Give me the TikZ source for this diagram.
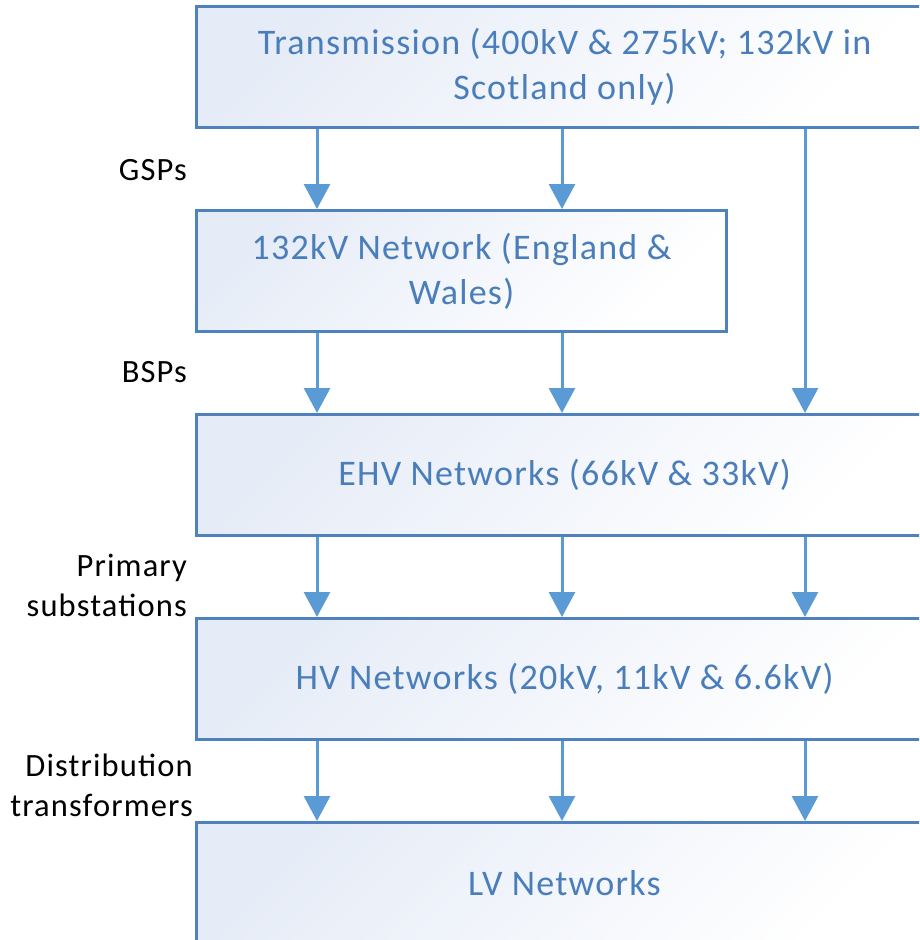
\documentclass[tikz,border=0pt]{standalone}
\usepackage{fontspec}
\setmainfont{Carlito}
\newfontfamily\spacedfont[LetterSpace=3.5]{Carlito}
\usetikzlibrary{arrows.meta}
\definecolor{boxline}{HTML}{4F81BD}
\definecolor{boxtext}{HTML}{4A7EBB}
\definecolor{arrowblue}{HTML}{5B9BD5}
\definecolor{boxfill}{HTML}{E6ECF7}
\tikzset{
  x=1pt, y=-1pt,
  netbox/.style={draw=boxline, line width=3pt, rectangle, anchor=north west,
    inner sep=0pt, minimum height=121pt, top color=boxfill, bottom color=white,
    shading angle=45, text=boxtext, align=center,
    font=\spacedfont\fontsize{36}{45}\selectfont},
  steplabel/.style={anchor=east, align=right, text=black,
    font=\spacedfont\fontsize{32.5}{40}\selectfont, inner sep=0pt},
  flow/.style={draw=arrowblue, line width=3pt,
    -{Triangle[width=26pt,length=25pt]}}
}
\begin{document}
\begin{tikzpicture}
\useasboundingbox (0,0) rectangle (919,940);
\clip (0,0) rectangle (919,940);
% columns of the connectors
\coordinate (c1) at (317,0);
\coordinate (c2) at (562,0);
\coordinate (c3) at (805,0);
% network levels
\node[netbox, minimum width=736pt] (tx) at (195,5)
  {Transmission (400kV \& 275kV; 132kV in\\Scotland only)};
\node[netbox, minimum width=530pt] (ew) at (195,209)
  {132kV Network (England \&\\Wales)};
\node[netbox, minimum width=736pt] (ehv) at (195,413)
  {EHV Networks (66kV \& 33kV)};
\node[netbox, minimum width=736pt] (hv) at (195,617)
  {HV Networks (20kV, 11kV \& 6.6kV)};
\node[netbox, minimum width=736pt] (lv) at (195,821)
  {LV Networks};
% transformation stages
\node[steplabel] (gsp) at (187,170) {GSPs};
\node[steplabel] (bsp) at (187,372) {BSPs};
\node[steplabel] (prim) at (187,585) {Primary\\substations};
\node[steplabel] (dist) at (193,785) {Distribution\\transformers};
% connectors
\draw[flow] (tx.south -| c1) -- (ew.north -| c1);
\draw[flow] (tx.south -| c2) -- (ew.north -| c2);
\draw[flow] (tx.south -| c3) -- (ehv.north -| c3);
\draw[flow] (ew.south -| c1) -- (ehv.north -| c1);
\draw[flow] (ew.south -| c2) -- (ehv.north -| c2);
\draw[flow] (ehv.south -| c1) -- (hv.north -| c1);
\draw[flow] (ehv.south -| c2) -- (hv.north -| c2);
\draw[flow] (ehv.south -| c3) -- (hv.north -| c3);
\draw[flow] (hv.south -| c1) -- (lv.north -| c1);
\draw[flow] (hv.south -| c2) -- (lv.north -| c2);
\draw[flow] (hv.south -| c3) -- (lv.north -| c3);
\end{tikzpicture}
\end{document}
